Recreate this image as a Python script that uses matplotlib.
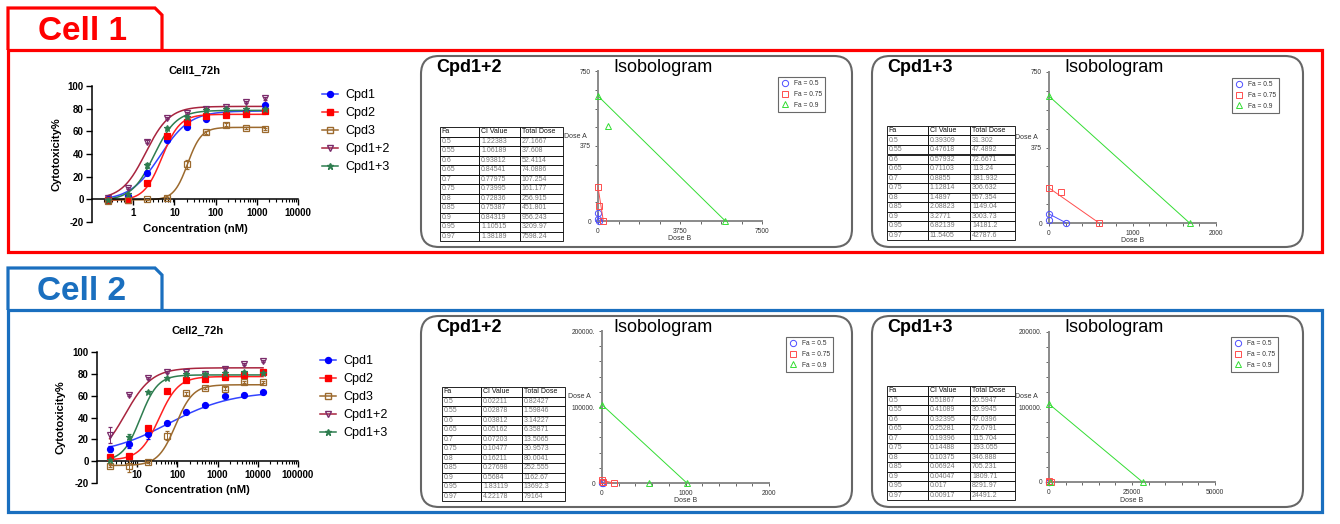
import numpy as np
import matplotlib
matplotlib.use('Agg')
import matplotlib.pyplot as plt
from matplotlib.patches import FancyBboxPatch, Polygon, Rectangle
from matplotlib.lines import Line2D

plt.rcParams['font.family'] = ['Liberation Sans', 'DejaVu Sans']
plt.rcParams['axes.unicode_minus'] = False

W, H = 1340, 524

# ---------------- dose-response data ----------------
compounds = ['Cpd1', 'Cpd2', 'Cpd3', 'Cpd1+2', 'Cpd1+3']

c1_conc = [0.244, 0.73, 2.19, 6.58, 19.75, 59.3, 178, 533, 1600]
c1_cpd1 = [0, 2.6, 23, 52, 64, 71, 75, 77, 83.6]
c1_cpd2 = [-1, -1, 14.7, 55.7, 68, 73.6, 74.5, 75.4, 77.7]
c1_cpd3 = [-1.8, -1, 0, 1, 31, 59, 66, 63, 62]
c1_cpd12 = [1.5, 10, 51, 72, 76, 80, 81.5, 86, 89]
c1_cpd13 = [-0.3, 5, 30, 63, 73, 79, 79.5, 80, 80]
# SD error bars
c1_err1 = [1, 1, 1.5, 1.5, 1, 1, 1, 1, 1]
c1_err2 = [0.5, 0.5, 1, 1.5, 1, 1, 1, 1, 1]
c1_err3 = [0.5, 0.5, 0.5, 1, 4, 1, 1, 1, 1]
c1_err12 = [0.5, 1, 1, 1, 1, 1, 1, 1, 1]
c1_err13 = [0.5, 1, 2, 1, 1, 1, 1, 1, 1]

# 4PL fit parameters (order = compounds)
c1_bottom = [-1, -1, -0.5, 0, -1]
c1_top = [78, 75, 63.5, 82, 78.5]
c1_ec50 = [4.5, 5.0, 21, 2.0, 3.2]
c1_hill = [1.2, 2.0, 2.6, 1.5, 1.6]

c2_conc = [2.06, 6.17, 18.5, 55.6, 167, 500, 1500, 4500, 13500]
c2_cpd1 = [11, 15.5, 24.6, 35, 45, 51, 60, 61, 63]
c2_cpd2 = [4, 4.5, 30, 64, 74.5, 75, 77, 79, 82]
c2_cpd3 = [-4, -4.3, -1, 23.5, 62, 67, 66.5, 72.6, 72.6]
c2_cpd12 = [24, 60.5, 76, 82, 82, 80, 84, 89, 92]
c2_cpd13 = [1, 22.5, 63.5, 76, 79.6, 80, 81, 82, 81]
c2_err1 = [3, 3, 4, 1.5, 1, 1, 1, 1, 1]
c2_err2 = [2, 1, 2, 1, 1, 1, 1, 1, 1]
c2_err3 = [1, 6, 1, 4.5, 1, 1, 1, 1, 1]
c2_err12 = [7, 1, 1, 1, 1, 1, 1, 1, 1]
c2_err13 = [1, 2, 1, 1, 1, 1, 1, 1, 1]

c2_bottom = [5, 1, -4, 0, 0]
c2_top = [64, 77.5, 70, 85.5, 79]
c2_ec50 = [60, 35, 90, 5.0, 12]
c2_hill = [0.55, 1.8, 2.0, 1.3, 2.0]

# ---------------- combination index tables ----------------
table_head = ['Fa', 'CI Value', 'Total Dose']
fa_levels = ['0.5', '0.55', '0.6', '0.65', '0.7', '0.75', '0.8', '0.85', '0.9', '0.95', '0.97']

c1_12_ci = ['1.22383', '1.06189', '0.93812', '0.84541', '0.77975', '0.73995',
            '0.72836', '0.75387', '0.84319', '1.10515', '1.38189']
c1_12_dose = ['27.1667', '37.608', '52.4114', '74.0886', '107.254', '161.177',
              '256.915', '451.801', '956.243', '3209.97', '7598.24']
c1_13_ci = ['0.39309', '0.47618', '0.57932', '0.71103', '0.8855', '1.12814',
            '1.4897', '2.08823', '3.2771', '6.82139', '11.5405']
c1_13_dose = ['31.302', '47.4892', '72.6671', '113.24', '181.932', '306.632',
              '557.354', '1149.04', '3003.73', '14181.2', '42787.6']
c2_12_ci = ['0.02211', '0.02878', '0.03812', '0.05162', '0.07203', '0.10477',
            '0.16211', '0.27698', '0.5684', '1.83119', '4.22178']
c2_12_dose = ['0.82427', '1.59846', '3.14227', '6.35871', '13.5065', '30.9573',
              '80.0041', '252.555', '1162.67', '13692.3', '79164']
c2_13_ci = ['0.51867', '0.41089', '0.32395', '0.25281', '0.19396', '0.14488',
            '0.10375', '0.06924', '0.04047', '0.017', '0.00917']
c2_13_dose = ['20.5947', '30.9945', '47.0396', '72.6791', '115.704', '193.055',
              '346.888', '705.231', '1809.71', '8291.97', '24491.2']

# ---------------- isobologram data (Fa = 0.5, 0.75, 0.9) ----------------
iso_fa = ['Fa = 0.5', 'Fa = 0.75', 'Fa = 0.9']
c1_12_alone_a = [42, 170, 625]
c1_12_alone_b = [40, 244, 5823]
c1_12_combo_b = [3, 46, 457]
c1_12_combo_a = [8, 73, 475]

c1_13_alone_a = [45, 174, 630]
c1_13_alone_b = [208, 600, 1684]
c1_13_combo_b = [5, 140, None]
c1_13_combo_a = [13, 152, None]

c2_12_alone_a = [900, 3500, 103000]
c2_12_alone_b = [12, 140, 1016]
c2_12_combo_b = [3, 10, 566]
c2_12_combo_a = [300, 700, 500]

c2_13_alone_a = [300, 1500, 104000]
c2_13_alone_b = [150, 700, 28170]
c2_13_combo_b = [2, 100, 200]
c2_13_combo_a = [10, 200, 50]

# ---------------- styles ----------------
DR_STYLE = {
    'Cpd1': dict(marker='o', mfc='#0000ff', mec='#0000ff', line='#3344ff', ms=4.3),
    'Cpd2': dict(marker='s', mfc='#ff0000', mec='#ff0000', line='#ff2020', ms=4.2),
    'Cpd3': dict(marker='s', mfc='none', mec='#9c6a2e', line='#9c6a2e', ms=4.2),
    'Cpd1+2': dict(marker='v', mfc='none', mec='#7a2a6a', line='#a8243e', ms=4.8),
    'Cpd1+3': dict(marker='*', mfc='#2e7d4f', mec='#2e7d4f', line='#2e7d4f', ms=5),
}
ISO_STYLE = [('o', '#4d4dff'), ('s', '#ff4d4d'), ('^', '#33dd33')]
RED = '#ff0000'
BLUE = '#1a6fbf'


def add_px_axes(fig, x0, y0, x1, y1):
    return fig.add_axes([x0 / W, 1 - y1 / H, (x1 - x0) / W, (y1 - y0) / H])


def fx(x, y):
    return x / W, 1 - y / H


def dose_panel(fig, box, conc, series, errs, bottoms, tops, ec50s, hills,
               xlim, xticks, xlabels, title, title_y, ylab_x, xlab_y, leg_xy):
    ax = add_px_axes(fig, *box)
    ax.set_facecolor('none')
    ax.set_xscale('log')
    ax.set_xlim(*xlim)
    ax.set_ylim(-20, 100)
    xs = np.logspace(np.log10(conc[0]), np.log10(conc[-1]), 300)
    handles = []
    for name, y, e, b, t, c, h in zip(compounds, series, errs, bottoms, tops, ec50s, hills):
        st = DR_STYLE[name]
        fit = b + (t - b) / (1 + (c / xs) ** h)
        ax.plot(xs, fit, color=st['line'], lw=1.1, zorder=2)
        ax.errorbar(conc, y, yerr=e, fmt=st['marker'], ms=st['ms'], mfc=st['mfc'],
                    mec=st['mec'], mew=0.9, ecolor=st['mec'], elinewidth=0.7,
                    capsize=1.5, capthick=0.7, zorder=3, clip_on=False)
        handles.append(Line2D([], [], color=st['line'], lw=1.1, marker=st['marker'],
                              ms=st['ms'], mfc=st['mfc'], mec=st['mec']))
    for s in ['top', 'right']:
        ax.spines[s].set_visible(False)
    ax.spines['bottom'].set_position(('data', 0))
    for s in ['left', 'bottom']:
        ax.spines[s].set_linewidth(1.1)
    ax.set_yticks([-20, 0, 20, 40, 60, 80, 100])
    ax.set_xticks(xticks)
    ax.set_xticklabels(xlabels)
    ax.tick_params(axis='both', which='major', labelsize=7, length=4, width=1.0, pad=2)
    ax.tick_params(axis='x', which='minor', length=2, width=0.8)
    for lab in ax.get_xticklabels() + ax.get_yticklabels():
        lab.set_fontweight('bold')
    cx = (box[0] + box[2]) / 2
    fig.text(*fx(cx, title_y), title, ha='center', va='center', fontsize=8, fontweight='bold')
    fig.text(*fx(ylab_x, (box[1] + box[3]) / 2), 'Cytotoxicity%', rotation=90,
             ha='center', va='center', fontsize=8, fontweight='bold')
    fig.text(*fx(cx, xlab_y), 'Concentration (nM)', ha='center', va='center',
             fontsize=8.2, fontweight='bold')
    ax.legend(handles, compounds, loc='upper left', bbox_to_anchor=fx(*leg_xy),
              bbox_transform=fig.transFigure, frameon=False, fontsize=9,
              handlelength=1.3, handletextpad=0.6, labelspacing=0.48,
              borderpad=0, borderaxespad=0)


def table_panel(fig, box, ci, dose):
    ax = add_px_axes(fig, *box)
    ax.axis('off')
    rows = [[f, c, d] for f, c, d in zip(fa_levels, ci, dose)]
    tb = ax.table(cellText=rows, colLabels=table_head, bbox=[0, 0, 1, 1],
                  cellLoc='left', colLoc='left', colWidths=[0.32, 0.33, 0.35])
    tb.auto_set_font_size(False)
    tb.set_fontsize(5)
    for (r, c), cell in tb.get_celld().items():
        cell.set_linewidth(0.6)
        cell.PAD = 0.04
        cell.get_text().set_color('#111111' if r == 0 else '#777777')


def iso_panel(fig, box, xmax, ymax, nx, ny, xlabels, ylabels,
              alone_a, alone_b, combo_b, combo_a, leg_xy):
    ax = add_px_axes(fig, *box)
    ax.set_facecolor('none')
    ax.set_xlim(0, xmax)
    ax.set_ylim(0, ymax)
    handles = []
    for (m, col), a, b, cb, ca in zip(ISO_STYLE, alone_a, alone_b, combo_b, combo_a):
        ax.plot([0, b], [a, 0], color=col, lw=0.7, marker=m, ms=4.5, mfc='none',
                mec=col, mew=0.7, clip_on=False, zorder=3)
        if cb is not None:
            ax.plot([cb], [ca], ls='none', marker=m, ms=4.5, mfc='none', mec=col,
                    mew=0.7, clip_on=False, zorder=3)
        handles.append(Line2D([], [], ls='none', marker=m, ms=4.5, mfc='none', mec=col, mew=0.7))
    for s in ['top', 'right']:
        ax.spines[s].set_visible(False)
    for s in ['left', 'bottom']:
        ax.spines[s].set_color('#8a8a8a')
        ax.spines[s].set_linewidth(1.4)
    ax.set_xticks(np.linspace(0, xmax, nx + 1), minor=True)
    ax.set_yticks(np.linspace(0, ymax, ny + 1), minor=True)
    ax.set_xticks([v for v, _ in xlabels])
    ax.set_xticklabels([t for _, t in xlabels])
    ax.set_yticks([v for v, _ in ylabels])
    ax.set_yticklabels([t for _, t in ylabels])
    ax.tick_params(which='both', length=2, width=0.7, color='#666666',
                   labelsize=4.8, labelcolor='#333333', pad=3)
    mid_y = (box[1] + box[3]) / 2
    fig.text(*fx(box[0] - 11, mid_y - 10), 'Dose A', ha='right', va='center',
             fontsize=5, color='#333333')
    fig.text(*fx((box[0] + box[2]) / 2, box[3] + 18), 'Dose B', ha='center',
             va='center', fontsize=5, color='#333333')
    leg = ax.legend(handles, iso_fa, loc='upper left', bbox_to_anchor=fx(*leg_xy),
                    bbox_transform=fig.transFigure, fontsize=4.8, frameon=True,
                    fancybox=False, edgecolor='#444444', handlelength=1.0,
                    handletextpad=0.9, labelspacing=0.55, borderpad=0.5,
                    borderaxespad=0)
    leg.get_frame().set_linewidth(0.8)
    for t in leg.get_texts():
        t.set_color('#333333')


fig = plt.figure(figsize=(W / 100, H / 100), dpi=100)
bg = fig.add_axes([0, 0, 1, 1])
bg.set_xlim(0, W)
bg.set_ylim(H, 0)
bg.axis('off')

# section frames, tabs and panel outlines
for top, col, name in [(8, RED, 'Cell 1'), (268, BLUE, 'Cell 2')]:
    tab_bot = top + 42
    bg.add_patch(Polygon([(8, tab_bot), (8, top), (155, top), (162, top + 7), (162, tab_bot)],
                         closed=False, fill=False, ec=col, lw=2.3))
    bg.add_patch(Rectangle((8, tab_bot), 1314, 202, fill=False, ec=col, lw=2.3))
    bg.text(82, top + 23, name, ha='center', va='center', fontsize=24,
            fontweight='bold', color=col)
    for left, combo in [(421, 'Cpd1+2'), (872, 'Cpd1+3')]:
        bg.add_patch(FancyBboxPatch((left, tab_bot + 6), 431, 191,
                                    boxstyle='round,pad=0,rounding_size=18',
                                    fill=False, ec='#666666', lw=1.5))
        bg.text(left + 15, tab_bot + 18, combo, ha='left', va='center',
                fontsize=13, fontweight='bold')
        bg.text(left + 192, tab_bot + 18, 'Isobologram', ha='left', va='center',
                fontsize=13)

# dose-response plots
dose_panel(fig, (92, 86, 298, 222), c1_conc,
           [c1_cpd1, c1_cpd2, c1_cpd3, c1_cpd12, c1_cpd13],
           [c1_err1, c1_err2, c1_err3, c1_err12, c1_err13],
           c1_bottom, c1_top, c1_ec50, c1_hill,
           (0.1, 10000), [1, 10, 100, 1000, 10000], ['1', '10', '100', '1000', '10000'],
           'Cell1_72h', 71, 57, 229, (322, 89))
dose_panel(fig, (97, 352, 298, 483), c2_conc,
           [c2_cpd1, c2_cpd2, c2_cpd3, c2_cpd12, c2_cpd13],
           [c2_err1, c2_err2, c2_err3, c2_err12, c2_err13],
           c2_bottom, c2_top, c2_ec50, c2_hill,
           (1, 100000), [10, 100, 1000, 10000, 100000],
           ['10', '100', '1000', '10000', '100000'],
           'Cell2_72h', 331, 60, 490, (320, 355))

# CI tables
table_panel(fig, (440, 127, 563, 241), c1_12_ci, c1_12_dose)
table_panel(fig, (887, 126, 1015, 240), c1_13_ci, c1_13_dose)
table_panel(fig, (442, 387, 565, 501), c2_12_ci, c2_12_dose)
table_panel(fig, (887, 386, 1015, 500), c2_13_ci, c2_13_dose)

# isobolograms
iso_panel(fig, (598, 71, 762, 221), 7500, 750, 8, 8,
          [(0, '0'), (3750, '3750'), (7500, '7500')],
          [(0, '0'), (375, '375'), (750, '750')],
          c1_12_alone_a, c1_12_alone_b, c1_12_combo_b, c1_12_combo_a, (778, 77))
iso_panel(fig, (1049, 72, 1216, 223), 2000, 750, 10, 8,
          [(0, '0'), (1000, '1000'), (2000, '2000')],
          [(0, '0'), (375, '375'), (750, '750')],
          c1_13_alone_a, c1_13_alone_b, c1_13_combo_b, c1_13_combo_a, (1232, 78))
iso_panel(fig, (602, 331, 769, 483), 2000, 200000, 10, 10,
          [(0, '0'), (1000, '1000'), (2000, '2000')],
          [(0, '0'), (100000, '100000.'), (200000, '200000.')],
          c2_12_alone_a, c2_12_alone_b, c2_12_combo_b, c2_12_combo_a, (786, 337))
iso_panel(fig, (1049, 332, 1215, 482), 50000, 200000, 10, 10,
          [(0, '0'), (25000, '25000'), (50000, '50000')],
          [(0, '0'), (100000, '100000.'), (200000, '200000.')],
          c2_13_alone_a, c2_13_alone_b, c2_13_combo_b, c2_13_combo_a, (1231, 337))

fig.savefig('out.png', dpi=100)
